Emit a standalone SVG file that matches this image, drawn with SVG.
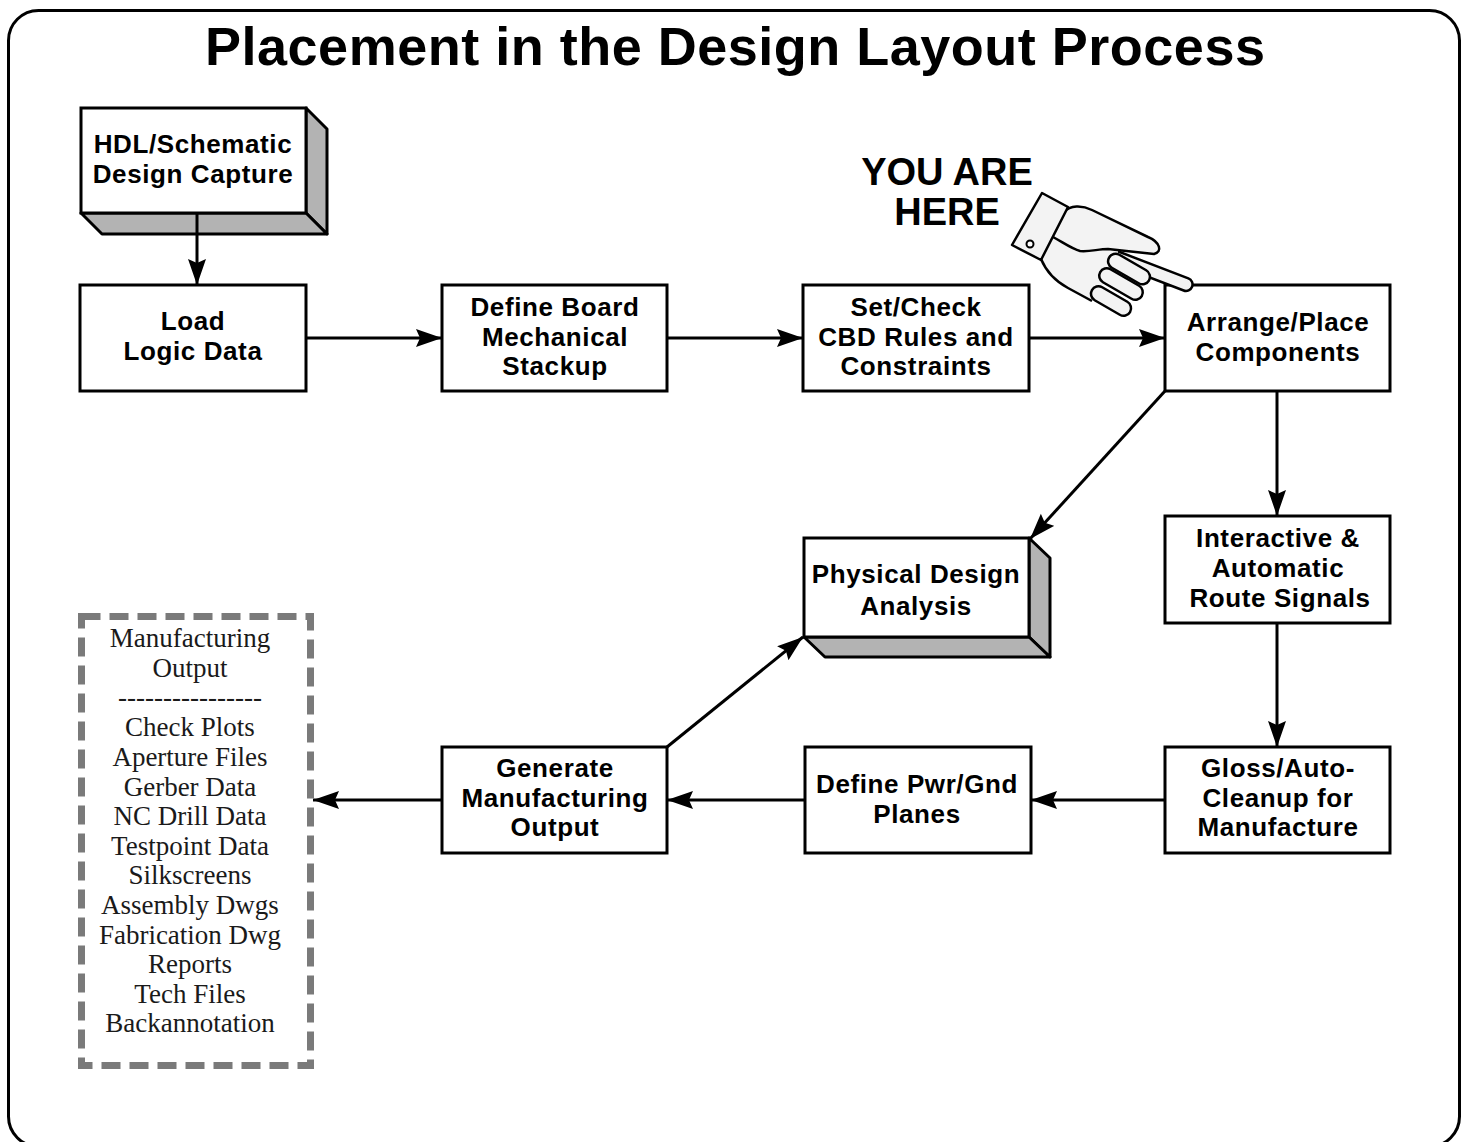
<svg xmlns="http://www.w3.org/2000/svg" width="1468" height="1142" viewBox="0 0 1468 1142">
  <defs>
    <style>
      .box { fill: #ffffff; stroke: #000000; stroke-width: 3; }
      .side { fill: #b3b3b3; stroke: #000000; stroke-width: 3; stroke-linejoin: round; }
      .lbl { font-family: "Liberation Sans", Arial, Helvetica, sans-serif; font-weight: bold; font-size: 26px; letter-spacing: 0.6px; text-anchor: middle; fill: #000000; }
      .list { font-family: "Liberation Serif", "Times New Roman", serif; font-size: 27px; text-anchor: middle; fill: #1a1a1a; }
      .conn { stroke: #000000; stroke-width: 3; fill: none; marker-end: url(#arrow); }
      .skin { fill: #f3f3f3; stroke: #000000; stroke-width: 2.5; stroke-linejoin: round; }
    </style>
    <marker id="arrow" markerUnits="userSpaceOnUse" markerWidth="28" markerHeight="20" refX="26" refY="9" orient="auto">
      <path d="M0,0 L26,9 L0,18 L4,9 Z" fill="#000000"/>
    </marker>
  </defs>

  <!-- frame -->
  <rect x="8.5" y="10.5" width="1451" height="1136" rx="30" ry="30" fill="#ffffff" stroke="#000000" stroke-width="3"/>

  <!-- title -->
  <text x="735" y="65" font-family="Liberation Sans, Arial, Helvetica, sans-serif" font-weight="bold" font-size="54" text-anchor="middle" textLength="1060" lengthAdjust="spacing">Placement in the Design Layout Process</text>

  <!-- connectors -->
  <g id="connectors">
    <line class="conn" x1="197" y1="213" x2="197" y2="285"/>
    <line class="conn" x1="306" y1="338" x2="442" y2="338"/>
    <line class="conn" x1="667" y1="338" x2="803" y2="338"/>
    <line class="conn" x1="1029" y1="338" x2="1165" y2="338"/>
    <line class="conn" x1="1277" y1="391" x2="1277" y2="516"/>
    <line class="conn" x1="1277" y1="623" x2="1277" y2="747"/>
    <line class="conn" x1="1165" y1="800" x2="1031" y2="800"/>
    <line class="conn" x1="805" y1="800" x2="667" y2="800"/>
    <line class="conn" x1="442" y1="800" x2="313" y2="800"/>
    <line class="conn" x1="1165" y1="391" x2="1030" y2="539"/>
    <line class="conn" x1="667" y1="747" x2="803" y2="637"/>
  </g>

  <!-- HDL / schematic capture (raised block) -->
  <g id="node-hdl">
    <polygon class="side" points="306,108 327,129 327,234 306,213"/>
    <polygon class="side" points="81,213 306,213 327,234 102,234"/>
    <rect class="box" x="81" y="108" width="225" height="105"/>
    <line x1="197" y1="213" x2="197" y2="234" stroke="#000" stroke-width="3"/>
    <text class="lbl" x="193" y="153">HDL/Schematic</text>
    <text class="lbl" x="193" y="183">Design Capture</text>
  </g>

  <g id="node-load">
    <rect class="box" x="80" y="285" width="226" height="106"/>
    <text class="lbl" x="193" y="330">Load</text>
    <text class="lbl" x="193" y="360">Logic Data</text>
  </g>

  <g id="node-board">
    <rect class="box" x="442" y="285" width="225" height="106"/>
    <text class="lbl" x="555" y="316">Define Board</text>
    <text class="lbl" x="555" y="346">Mechanical</text>
    <text class="lbl" x="555" y="375">Stackup</text>
  </g>

  <g id="node-rules">
    <rect class="box" x="803" y="285" width="226" height="106"/>
    <text class="lbl" x="916" y="316">Set/Check</text>
    <text class="lbl" x="916" y="346">CBD Rules and</text>
    <text class="lbl" x="916" y="375">Constraints</text>
  </g>

  <g id="node-place">
    <rect class="box" x="1165" y="285" width="225" height="106"/>
    <text class="lbl" x="1278" y="331">Arrange/Place</text>
    <text class="lbl" x="1278" y="361">Components</text>
  </g>

  <g id="node-route">
    <rect class="box" x="1165" y="516" width="225" height="107"/>
    <text class="lbl" x="1278" y="547">Interactive &amp;</text>
    <text class="lbl" x="1278" y="577">Automatic</text>
    <text class="lbl" x="1280" y="607">Route Signals</text>
  </g>

  <g id="node-gloss">
    <rect class="box" x="1165" y="747" width="225" height="106"/>
    <text class="lbl" x="1278" y="777">Gloss/Auto-</text>
    <text class="lbl" x="1278" y="807">Cleanup for</text>
    <text class="lbl" x="1278" y="836">Manufacture</text>
  </g>

  <g id="node-planes">
    <rect class="box" x="805" y="747" width="226" height="106"/>
    <text class="lbl" x="917" y="793">Define Pwr/Gnd</text>
    <text class="lbl" x="917" y="823">Planes</text>
  </g>

  <g id="node-generate">
    <rect class="box" x="442" y="747" width="225" height="106"/>
    <text class="lbl" x="555" y="777">Generate</text>
    <text class="lbl" x="555" y="807">Manufacturing</text>
    <text class="lbl" x="555" y="836">Output</text>
  </g>

  <!-- physical design analysis (raised block) -->
  <g id="node-analysis">
    <polygon class="side" points="1029,538 1050,558 1050,657 1029,637"/>
    <polygon class="side" points="804,637 1029,637 1050,657 825,657"/>
    <rect class="box" x="804" y="538" width="225" height="99"/>
    <text class="lbl" x="916" y="583">Physical Design</text>
    <text class="lbl" x="916" y="615">Analysis</text>
  </g>

  <!-- manufacturing output list -->
  <g id="node-outputs">
    <rect x="81.5" y="616.5" width="229" height="449" fill="#ffffff" stroke="#7a7a7a" stroke-width="7" stroke-dasharray="19 9"/>
    <text class="list" x="190" y="647">Manufacturing</text>
    <text class="list" x="190" y="677">Output</text>
    <text class="list" x="190" y="706">----------------</text>
    <text class="list" x="190" y="736">Check Plots</text>
    <text class="list" x="190" y="766">Aperture Files</text>
    <text class="list" x="190" y="796">Gerber Data</text>
    <text class="list" x="190" y="825">NC Drill Data</text>
    <text class="list" x="190" y="855">Testpoint Data</text>
    <text class="list" x="190" y="884">Silkscreens</text>
    <text class="list" x="190" y="914">Assembly Dwgs</text>
    <text class="list" x="190" y="944">Fabrication Dwg</text>
    <text class="list" x="190" y="973">Reports</text>
    <text class="list" x="190" y="1003">Tech Files</text>
    <text class="list" x="190" y="1032">Backannotation</text>
  </g>

  <!-- "you are here" pointer -->
  <g id="marker-here">
    <text x="947" y="185" font-family="Liberation Sans, Arial, Helvetica, sans-serif" font-weight="bold" font-size="38" text-anchor="middle">YOU ARE</text>
    <text x="947" y="225" font-family="Liberation Sans, Arial, Helvetica, sans-serif" font-weight="bold" font-size="38" text-anchor="middle">HERE</text>
    <!-- pointing finger -->
    <rect class="skin" x="1107" y="264.5" width="88" height="13" rx="6.5" transform="rotate(21 1151 271)"/>
    <!-- palm -->
    <polygon points="1041,259 1066,210 1118,240 1118,258 1100,290 1090,302 1068,288 1050,274" fill="#f3f3f3"/>
    <path d="M1041,259 C1046,271 1055,281 1068,288 L1092,301" fill="none" stroke="#000" stroke-width="2.5"/>
    <!-- curled fingers -->
    <rect class="skin" x="1106" y="261.5" width="46" height="15" rx="7.5" transform="rotate(30 1129 269)"/>
    <rect class="skin" x="1097" y="276.5" width="48" height="15" rx="7.5" transform="rotate(30 1121 284)"/>
    <rect class="skin" x="1089" y="293.5" width="44" height="15" rx="7.5" transform="rotate(30 1111 301)"/>
    <!-- thumb -->
    <path class="skin" d="M1064,212 C1070,205 1082,205 1092,210 L1148,237 C1160,242 1163,252 1154,254 L1108,249 C1098,249 1090,252 1080,251 C1072,249 1064,243 1053,237"/>
    <!-- cuff -->
    <polygon class="skin" points="1042,193 1068,207 1041,260 1012,245"/>
    <circle cx="1030" cy="244" r="3.5" fill="#ffffff" stroke="#000" stroke-width="2"/>
  </g>
</svg>
